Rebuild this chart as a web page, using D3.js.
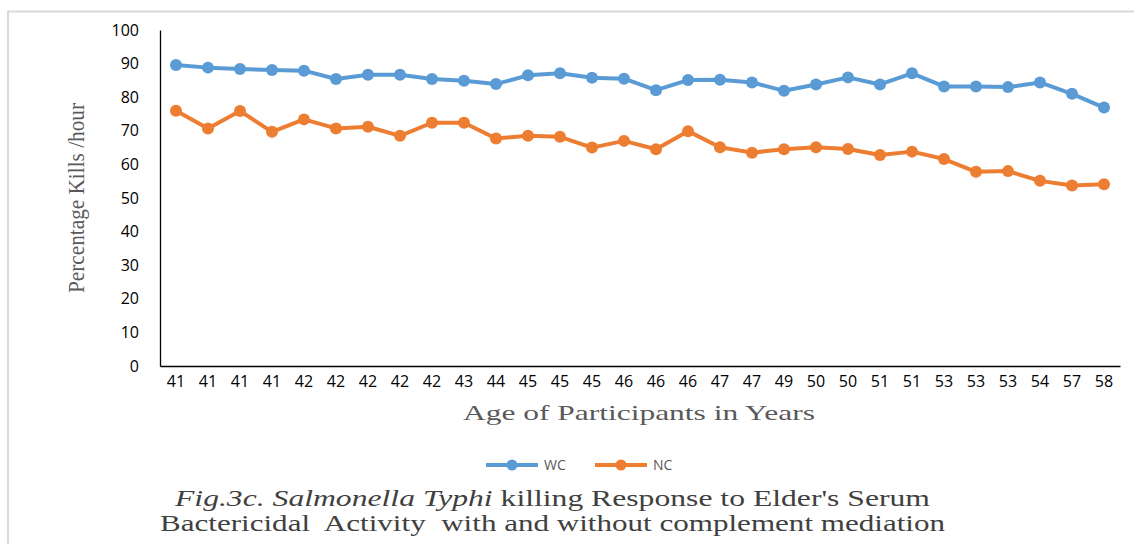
<!DOCTYPE html>
<html>
<head>
<meta charset="utf-8">
<script src="https://cdn.jsdelivr.net/npm/d3@7"></script>
<style>
  body { margin: 0; background: #fff; }
  svg text { font-family: "Open Sans", "Liberation Sans", sans-serif; }
</style>
</head>
<body>
<svg id="chart" width="1134" height="544"></svg>
<script>
// ages on x axis (duplicates kept, one per participant)
const ages = [41,41,41,41,42,42,42,42,42,43,44,45,45,45,46,46,46,47,47,49,50,50,51,51,53,53,53,54,57,58];
// with complement
const wc = [89.6,88.8,88.4,88.1,87.9,85.4,86.7,86.7,85.4,84.9,83.9,86.5,87.1,85.8,85.5,82.1,85.1,85.2,84.4,81.9,83.8,85.9,83.8,87.1,83.2,83.2,83.0,84.4,81.0,76.9];
// no complement
const nc = [76.0,70.7,75.9,69.7,73.4,70.7,71.2,68.5,72.4,72.4,67.7,68.5,68.2,65.0,67.0,64.5,69.9,65.1,63.5,64.5,65.1,64.6,62.8,63.8,61.6,57.8,58.0,55.1,53.7,54.1];
const yTicks = [0,10,20,30,40,50,60,70,80,90,100];

const series = [
  {name: "WC", values: wc, color: "#5B9BD5"},
  {name: "NC", values: nc, color: "#ED7D31"}
];

const svg = d3.select("#chart");
const pLeft = 160, pRight = 1120, pTop = 30, pBottom = 366;
const serif = "'Liberation Serif', 'Times New Roman', serif";

// outer frame (only top + left visible in source)
svg.append("line").attr("x1", 8).attr("x2", 1134).attr("y1", 11.5).attr("y2", 11.5)
  .attr("stroke", "#d9d9d9").attr("stroke-width", 2);
svg.append("line").attr("x1", 8).attr("x2", 8).attr("y1", 11).attr("y2", 544)
  .attr("stroke", "#d9d9d9").attr("stroke-width", 2);

let idx = d3.range(ages.length);
let x = d3.scaleBand().domain(idx).range([pLeft, pRight]);
let y = d3.scaleLinear().domain([0, 100]).range([pBottom, pTop]);

// y axis
let yAxis = svg.append("g").attr("transform", "translate(" + pLeft + ",0)")
  .call(d3.axisLeft(y).tickValues(yTicks).tickSize(0).tickPadding(21));
yAxis.select(".domain").attr("stroke", "#000").attr("stroke-width", 1.3);
yAxis.selectAll("text").style("font-size", "16px").attr("fill", "#000");

// x axis
let xAxis = svg.append("g").attr("transform", "translate(0," + pBottom + ")")
  .call(d3.axisBottom(x).tickSize(0).tickPadding(10).tickFormat(i => ages[i]));
xAxis.select(".domain").attr("stroke", "#000").attr("stroke-width", 1.3);
xAxis.selectAll("text").style("font-size", "16px").attr("fill", "#000");

// lines + markers
let line = d3.line().x((d, i) => x(i) + x.bandwidth() / 2).y(d => y(d));
series.forEach(s => {
  svg.append("path").datum(s.values).attr("d", line)
    .attr("fill", "none").attr("stroke", s.color).attr("stroke-width", 4)
    .attr("stroke-linejoin", "round");
  svg.selectAll(null).data(s.values).enter().append("circle")
    .attr("cx", (d, i) => x(i) + x.bandwidth() / 2)
    .attr("cy", d => y(d))
    .attr("r", 6).attr("fill", s.color);
});

// axis titles
svg.append("text")
  .attr("transform", "translate(84," + ((pTop + pBottom) / 2) + ") rotate(-90)")
  .attr("text-anchor", "middle")
  .style("font-family", serif).style("font-size", "24px")
  .attr("fill", "#595959")
  .attr("textLength", 190).attr("lengthAdjust", "spacingAndGlyphs")
  .text("Percentage Kills /hour");

svg.append("text")
  .attr("x", 639).attr("y", 420).attr("text-anchor", "middle")
  .style("font-family", serif).style("font-size", "22px")
  .attr("fill", "#595959")
  .attr("textLength", 352).attr("lengthAdjust", "spacingAndGlyphs")
  .text("Age of Participants in Years");

// legend
let legend = svg.append("g").attr("transform", "translate(486,465)");
series.forEach((s, i) => {
  let g = legend.append("g").attr("transform", "translate(" + (i * 109) + ",0)");
  g.append("line").attr("x1", 0).attr("x2", 52).attr("y1", 0).attr("y2", 0)
    .attr("stroke", s.color).attr("stroke-width", 4);
  g.append("circle").attr("cx", 26).attr("cy", 0).attr("r", 5.5).attr("fill", s.color);
  g.append("text").attr("x", 58).attr("y", 5).style("font-size", "14px")
    .attr("fill", "#595959").text(s.name);
});

// caption
let cap1 = svg.append("text").attr("x", 175).attr("y", 506)
  .style("font-family", serif).style("font-size", "23px")
  .attr("fill", "#404040")
  .attr("textLength", 755).attr("lengthAdjust", "spacingAndGlyphs");
cap1.append("tspan").attr("font-style", "italic").text("Fig.3c. Salmonella Typhi");
cap1.append("tspan").text(" killing  Response to Elder's Serum");

svg.append("text").attr("x", 160).attr("y", 531)
  .style("font-family", serif).style("font-size", "23px")
  .attr("fill", "#404040")
  .attr("textLength", 785).attr("lengthAdjust", "spacingAndGlyphs")
  .attr("xml:space", "preserve")
  .text("Bactericidal  Activity  with and without complement mediation");
</script>
</body>
</html>
